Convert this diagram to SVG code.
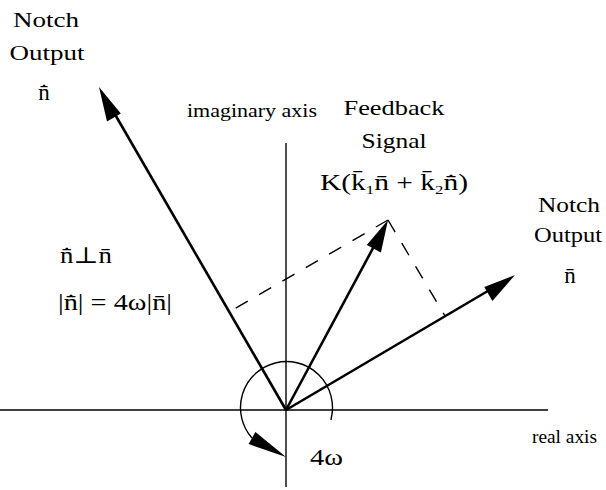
<svg xmlns="http://www.w3.org/2000/svg" width="606" height="490" viewBox="0 0 606 490">
<style>
text{font-family:"Liberation Serif","DejaVu Serif",serif;fill:#000}
.lbl{font-size:22px}
.big{font-size:23px}
.ax{font-size:18px}
.sub{font-size:13px}
.axis{stroke:#000;stroke-width:1.4;fill:none}
.vec{stroke:#000;stroke-width:2.6;fill:none}
.dash{stroke:#000;stroke-width:1.4;fill:none;stroke-dasharray:14 13}
.head{fill:#000;stroke:none}
</style>
<rect width="606" height="490" fill="#fff"/>
<g id="connectors">
<line class="axis" x1="0" y1="410" x2="548" y2="410"/>
<line class="axis" x1="286" y1="143" x2="286" y2="487" stroke-width="1.1"/>
<line class="vec" x1="286" y1="410" x2="109" y2="104"/>
<polygon class="head" points="99,87 120.8,113.5 107,121.5"/>
<line class="vec" x1="286" y1="410" x2="498" y2="285"/>
<polygon class="head" points="515,275 492.4,300.9 484.3,287.1"/>
<line class="vec" x1="286" y1="410" x2="379" y2="237"/>
<polygon class="head" points="388,220 380.9,252.4 366.8,244.9"/>
<line class="dash" x1="388" y1="220" x2="229" y2="312"/>
<line class="dash" x1="388" y1="220" x2="445" y2="316"/>
<path class="axis" d="M331,420 L331.3,418 A46,46 0 1 0 252,438" stroke-width="1.3"/>
<polygon class="head" points="286,457 255.4,431.9 248.6,444.1"/>
</g>
<g id="notch-output-ndot">
<text class="lbl" x="46" y="27" text-anchor="middle" textLength="66" lengthAdjust="spacingAndGlyphs">Notch</text>
<text class="lbl" x="47" y="60" text-anchor="middle" textLength="75" lengthAdjust="spacingAndGlyphs">Output</text>
<text class="big" x="44" y="100" text-anchor="middle">n&#x0304;&#x0307;</text>
</g>
<g id="imaginary-axis">
<text class="ax" x="187" y="117" textLength="130" lengthAdjust="spacingAndGlyphs">imaginary axis</text>
</g>
<g id="feedback-signal">
<text class="lbl" x="394" y="115" text-anchor="middle" textLength="101" lengthAdjust="spacingAndGlyphs">Feedback</text>
<text class="lbl" x="394" y="148" text-anchor="middle" textLength="65" lengthAdjust="spacingAndGlyphs">Signal</text>
<text class="big" x="320" y="190" textLength="148" lengthAdjust="spacingAndGlyphs">K(k&#x0304;<tspan class="sub" dy="4">1</tspan><tspan dy="-4">n&#x0304; + k&#x0304;</tspan><tspan class="sub" dy="4">2</tspan><tspan dy="-4">n&#x0304;&#x0307;)</tspan></text>
</g>
<g id="notch-output-n">
<text class="lbl" x="569" y="212" text-anchor="middle" textLength="62" lengthAdjust="spacingAndGlyphs">Notch</text>
<text class="lbl" x="568" y="242" text-anchor="middle" textLength="68" lengthAdjust="spacingAndGlyphs">Output</text>
<text class="big" x="570" y="283" text-anchor="middle">n&#x0304;</text>
</g>
<g id="relations">
<text class="big" x="60" y="263" textLength="52" lengthAdjust="spacingAndGlyphs">n&#x0304;&#x0307;&#x22A5;n&#x0304;</text>
<text class="big" x="58" y="310" textLength="114" lengthAdjust="spacingAndGlyphs">|n&#x0304;&#x0307;| = 4&#x03C9;|n&#x0304;|</text>
</g>
<g id="angle-label">
<text class="big" x="310" y="465" textLength="33" lengthAdjust="spacingAndGlyphs">4&#x03C9;</text>
</g>
<g id="real-axis">
<text class="ax" x="532" y="443" textLength="65" lengthAdjust="spacingAndGlyphs">real axis</text>
</g>
</svg>
